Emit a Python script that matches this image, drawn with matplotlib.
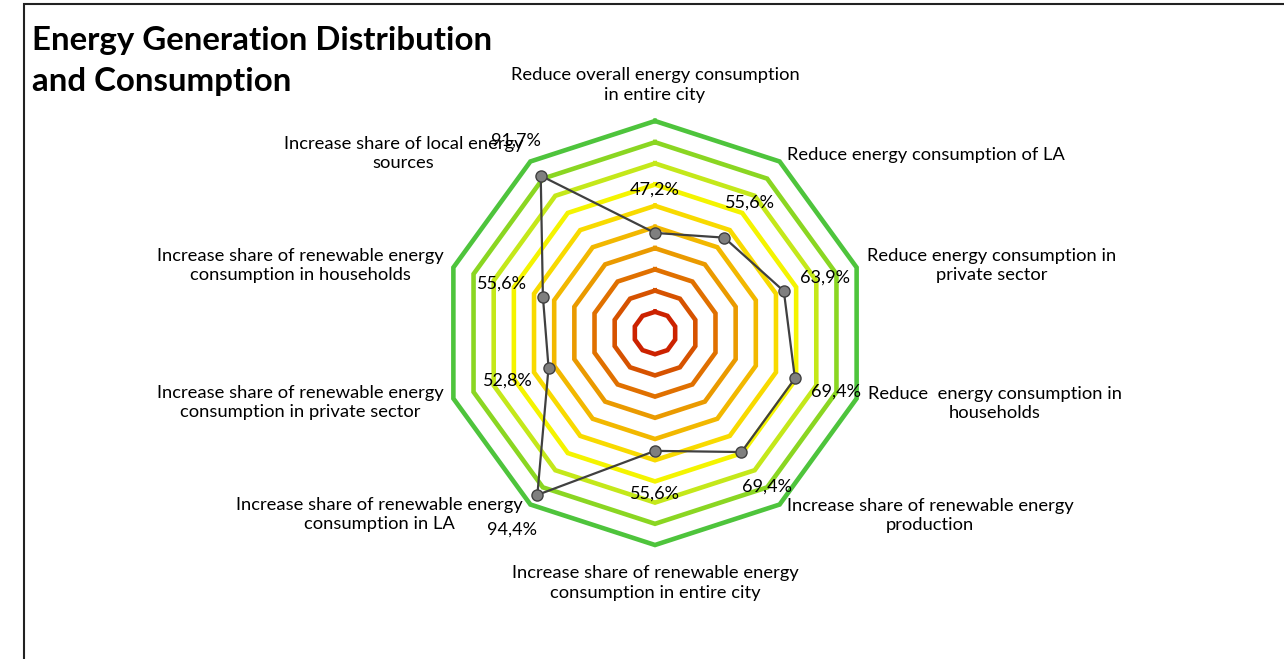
import numpy as np
import matplotlib.pyplot as plt
from matplotlib.patches import Rectangle

plt.rcParams['font.family'] = ['Lato', 'DejaVu Sans']

# categories, clockwise from the top
categories = [
    "Reduce overall energy consumption\nin entire city",
    "Reduce energy consumption of LA",
    "Reduce energy consumption in\nprivate sector",
    "Reduce  energy consumption in\nhouseholds",
    "Increase share of renewable energy\nproduction",
    "Increase share of renewable energy\nconsumption in entire city",
    "Increase share of renewable energy\nconsumption in LA",
    "Increase share of renewable energy\nconsumption in private sector",
    "Increase share of renewable energy\nconsumption in households",
    "Increase share of local energy\nsources",
]
values = [47.2, 55.6, 63.9, 69.4, 69.4, 55.6, 94.4, 52.8, 55.6, 91.7]
value_labels = ["47,2%", "55,6%", "63,9%", "69,4%", "69,4%",
                "55,6%", "94,4%", "52,8%", "55,6%", "91,7%"]

# coloured scale rings, 10% .. 100%
ring_levels = [10, 20, 30, 40, 50, 60, 70, 80, 90, 100]
ring_colors = ["#CC2200", "#D65200", "#E07000", "#EA9A00", "#F2B800",
               "#F8DA00", "#F4F400", "#C4E81A", "#8AD622", "#4EC43C"]

# label placement (offset in pixels from the outer vertex, alignment)
label_offsets = [(0, 36), (7, 6), (10, 2), (11, -5), (7, -11),
                 (0, -38), (-8, -10), (-10, -4), (-10, 2), (-7, 8)]
label_ha = ["center", "left", "left", "left", "left",
            "center", "right", "right", "right", "right"]

n = len(categories)
theta = np.arange(n) * 2 * np.pi / n
theta_closed = np.append(theta, theta[0])

fig = plt.figure(figsize=(12.84, 6.59), dpi=100)

# frame line along top and left
fig.patches.append(Rectangle((24 / 1284, -0.1), 1.1, 0.1 + 1 - 3.5 / 659,
                             transform=fig.transFigure, fill=False,
                             edgecolor="#222222", linewidth=1.5))

fig.text(32 / 1284, 1 - 26 / 659,
         "Energy Generation Distribution\nand Consumption",
         fontsize=23.8, fontweight="bold", va="top", ha="left",
         linespacing=1.5, color="black")

ax = fig.add_axes([443 / 1284, 114 / 659, 424 / 1284, 424 / 659],
                  projection="polar")
ax.set_theta_offset(np.pi / 2)
ax.set_theta_direction(-1)
ax.set_ylim(0, 100)
ax.grid(False)
ax.set_xticks([])
ax.set_yticks([])
ax.spines["polar"].set_visible(False)
ax.patch.set_alpha(0)

for lvl, col in zip(ring_levels, ring_colors):
    ax.plot(theta_closed, [lvl] * (n + 1), color=col, lw=3.3,
            solid_joinstyle="miter", clip_on=False, zorder=2)

vals_closed = values + [values[0]]
ax.plot(theta_closed, vals_closed, color="#404040", lw=1.6, zorder=4,
        clip_on=False)
ax.plot(theta, values, "o", ms=8, mfc="#7F7F7F", mec="#404040",
        mew=1.0, zorder=5, clip_on=False)

for t, v, lab in zip(theta, values, value_labels):
    ax.annotate(lab, xy=(t, v), xytext=(43 * np.sin(t), 43 * np.cos(t)),
                textcoords="offset pixels", ha="center", va="center",
                fontsize=13, zorder=6, annotation_clip=False)

for t, lab, off, ha in zip(theta, categories, label_offsets, label_ha):
    ax.annotate(lab, xy=(t, 100), xytext=off, textcoords="offset pixels",
                ha=ha, va="center", multialignment="center",
                fontsize=13.2, linespacing=1.28, zorder=6,
                annotation_clip=False)

fig.savefig("out.png", dpi=100, facecolor="white")
